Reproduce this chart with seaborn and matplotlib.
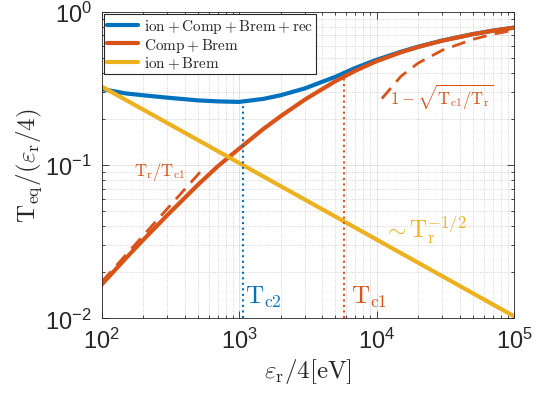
import numpy as np
import pandas as pd
import matplotlib
matplotlib.use('Agg')
import matplotlib.pyplot as plt
import seaborn as sns

# values (x = eps_r/4 in eV, y = T_eq/(eps_r/4))
tr = [100, 150, 200, 300, 500, 700, 1000, 1500, 2000, 3000, 5000, 7000,
      1e4, 1.5e4, 2e4, 3e4, 5e4, 7e4, 1e5]
y_full = [0.313, 0.293, 0.285, 0.275, 0.264, 0.260, 0.258, 0.270, 0.285, 0.316,
          0.376, 0.430, 0.486, 0.548, 0.591, 0.649, 0.714, 0.752, 0.788]
y_comp = [0.0166, 0.0247, 0.0324, 0.0471, 0.0742, 0.0983, 0.128, 0.172, 0.208,
          0.267, 0.352, 0.412, 0.476, 0.543, 0.588, 0.647, 0.713, 0.751, 0.787]
tr_ion = [100, 1000, 1e4, 1e5]
y_ion = [0.325, 0.103, 0.0326, 0.0103]

# asymptotes
tr_low = [100, 547]
y_low = [0.0173, 0.0946]
tr_high = [1.09e4, 1.5e4, 2e4, 3e4, 5e4, 7e4, 1e5]
y_high = [0.271, 0.379, 0.462, 0.561, 0.660, 0.713, 0.760]

# critical temperatures
tc2, tc2_top = 1071, 0.259
tc1, tc1_top = 5780, 0.365

labels = [r'$\mathrm{ion}+\mathrm{Comp}+\mathrm{Brem}+\mathrm{rec}$',
          r'$\mathrm{Comp}+\mathrm{Brem}$',
          r'$\mathrm{ion}+\mathrm{Brem}$']

blue = '#0072BD'
orange = '#D95319'
yellow = '#EDB120'

sns.set_style('ticks')
plt.rcParams['font.family'] = ['Liberation Sans', 'DejaVu Sans']

fig = plt.figure(figsize=(5.46, 4.02), dpi=100)
ax = fig.add_axes([0.1863, 0.2057, 0.7555, 0.7627])

df = pd.DataFrame({'tr': tr, 'full': y_full, 'comp': y_comp})
sns.lineplot(data=df, x='tr', y='full', ax=ax, color=blue, lw=3, label=labels[0])
sns.lineplot(data=df, x='tr', y='comp', ax=ax, color=orange, lw=3, label=labels[1])
sns.lineplot(x=tr_ion, y=y_ion, ax=ax, color=yellow, lw=3, label=labels[2])

ax.plot(tr_low, y_low, color=orange, lw=2, ls=(0, (5, 3)))
ax.plot(tr_high, y_high, color=orange, lw=2, ls=(0, (5, 3)))

ax.plot([tc2, tc2], [0.01, tc2_top], color=blue, lw=1.5, ls=':')
ax.plot([tc1, tc1], [0.01, tc1_top], color=orange, lw=1.5, ls=':')

ax.set_xscale('log')
ax.set_yscale('log')
ax.set_xlim(100, 1e5)
ax.set_ylim(0.01, 1)

ax.grid(True, which='major', color='0.15', alpha=0.15, lw=0.6, ls='-')
ax.grid(True, which='minor', color='0.15', alpha=0.25, lw=0.6, ls=':')
ax.set_axisbelow(True)

ax.tick_params(which='both', direction='in', top=True, right=True,
               color='0.15', width=0.6)
ax.tick_params(which='major', length=5, labelsize=17, pad=7, labelcolor='0.15')
ax.tick_params(which='minor', length=2.5)
for s in ax.spines.values():
    s.set_color('0.15')
    s.set_linewidth(0.6)

ax.set_xlabel(r'$\varepsilon_\mathrm{r}/4[\mathrm{eV}]$', fontsize=18,
              math_fontfamily='cm', color='0.15', labelpad=2)
ax.set_ylabel(r'$\mathrm{T_{eq}}/(\varepsilon_\mathrm{r}/4)$', fontsize=18,
              math_fontfamily='cm', color='0.15', labelpad=1)

ax.text(265, 0.0914, r'$\mathrm{T_r/T_{c1}}$', color=orange, fontsize=12,
        math_fontfamily='cm', ha='center', va='center')
ax.text(2.99e4, 0.282, r'$1-\sqrt{\mathrm{T_{c1}/T_r}}$', color=orange,
        fontsize=12, math_fontfamily='cm', ha='center', va='center')
ax.text(2.24e4, 0.0387, r'$\sim\mathrm{T_r^{-1/2}}$', color=yellow, fontsize=17,
        math_fontfamily='cm', ha='center', va='center')
ax.text(1490, 0.0140, r'$\mathrm{T_{c2}}$', color=blue, fontsize=18,
        math_fontfamily='cm', ha='center', va='center')
ax.text(8810, 0.0140, r'$\mathrm{T_{c1}}$', color=orange, fontsize=18,
        math_fontfamily='cm', ha='center', va='center')

leg = ax.legend(loc='upper left', fontsize=11, frameon=True, fancybox=False,
                framealpha=1, edgecolor='0.15', borderaxespad=0.15,
                handlelength=2.0, handletextpad=0.4, borderpad=0.2,
                labelspacing=0.05)
leg.get_frame().set_linewidth(0.8)
for t in leg.get_texts():
    t.set_math_fontfamily('cm')

fig.savefig('out.png', dpi=100)
